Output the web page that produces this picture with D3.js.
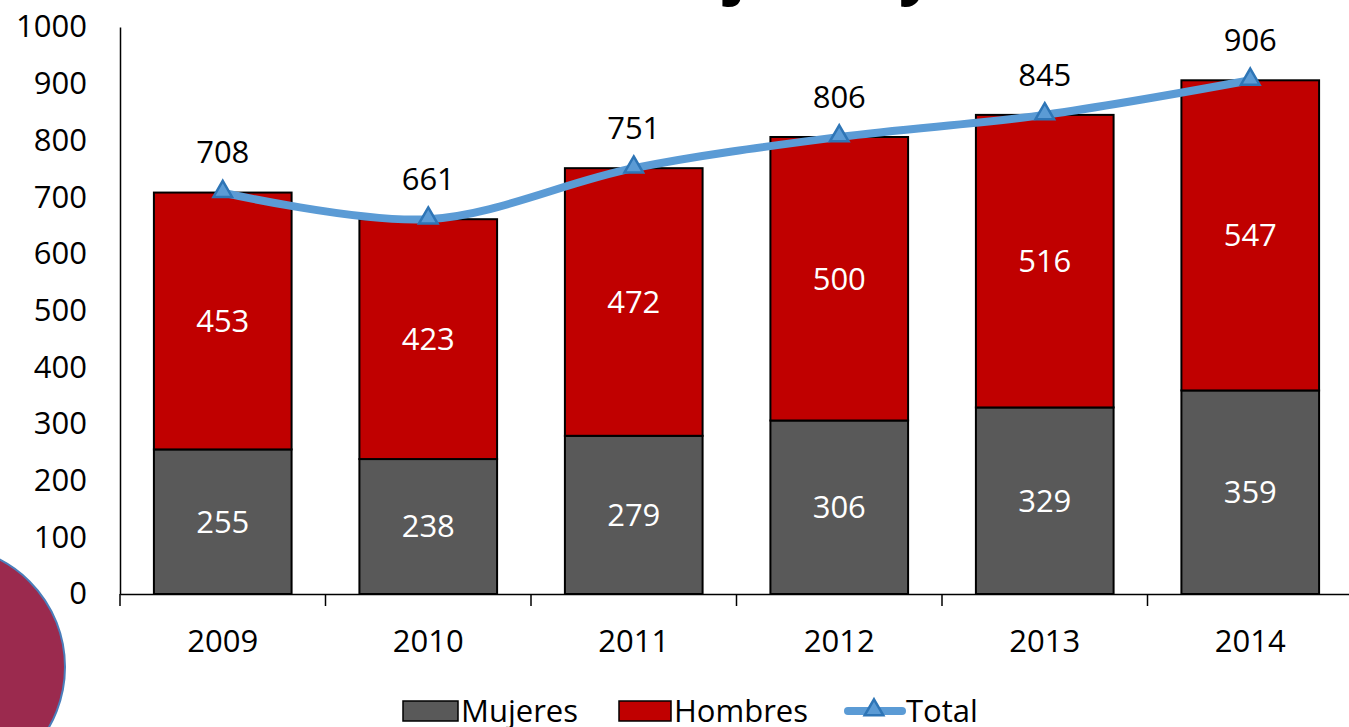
<!DOCTYPE html>
<html>
<head>
<meta charset="utf-8">
<script src="https://cdn.jsdelivr.net/npm/d3@7"></script>
<style>
  body { margin: 0; background: #fff; }
  svg { display: block; font-family: "Open Sans", sans-serif; }
</style>
</head>
<body>
<svg width="1349" height="727"></svg>
<script>
// data
const years = ["2009", "2010", "2011", "2012", "2013", "2014"];
const mujeres = [255, 238, 279, 306, 329, 359];
const hombres = [453, 423, 472, 500, 516, 547];
const total = [708, 661, 751, 806, 845, 906];
const yTicks = [0, 100, 200, 300, 400, 500, 600, 700, 800, 900, 1000];

const plotLeft = 120, plotRight = 1353, plotTop = 27, plotBottom = 594;
const fs = 31;

const svg = d3.select("svg");

// decoration: circle peeking from the bottom-left corner
svg.append("circle")
  .attr("cx", -56).attr("cy", 667).attr("r", 121)
  .attr("fill", "#9B2A4E").attr("stroke", "#4A7EBB").attr("stroke-width", 2);

// title, mostly cut off above the frame
svg.append("text")
  .attr("x", 624).attr("y", -9)
  .attr("font-weight", "bold")
  .attr("font-size", 64)
  .text("Mujeres y Hombres");

const x = d3.scaleBand().domain(years).range([plotLeft, plotRight]).paddingInner(0.33).paddingOuter(0.165);
const y = d3.scaleLinear().domain([0, 1000]).range([plotBottom, plotTop]);

const rows = years.map((yr, i) => ({ year: yr, m: mujeres[i], h: hombres[i], t: total[i] }));

// y axis
const yAxis = svg.append("g")
  .attr("transform", `translate(${plotLeft},0)`)
  .call(d3.axisLeft(y).tickValues(yTicks).tickFormat(d3.format("d")).tickSize(0).tickPadding(33));
yAxis.select(".domain").attr("stroke", "#000").attr("stroke-width", 1.5);
yAxis.selectAll("text").attr("font-size", fs).attr("fill", "#000").attr("font-family", "Open Sans");

// bars
const barG = svg.append("g");
barG.selectAll(".m").data(rows).enter().append("rect")
  .attr("x", d => x(d.year)).attr("width", x.bandwidth())
  .attr("y", d => y(d.m)).attr("height", d => y(0) - y(d.m))
  .attr("fill", "#595959").attr("stroke", "#000").attr("stroke-width", 2);
barG.selectAll(".h").data(rows).enter().append("rect")
  .attr("x", d => x(d.year)).attr("width", x.bandwidth())
  .attr("y", d => y(d.m + d.h)).attr("height", d => y(d.m) - y(d.m + d.h))
  .attr("fill", "#C00000").attr("stroke", "#000").attr("stroke-width", 2);

// x axis
const xAxis = svg.append("g")
  .attr("transform", `translate(0,${plotBottom})`)
  .call(d3.axisBottom(x).tickSize(0).tickPadding(36));
xAxis.select(".domain").attr("stroke", "#000").attr("stroke-width", 1.5);
xAxis.selectAll("text").attr("font-size", fs).attr("fill", "#000").attr("font-family", "Open Sans");
// boundary ticks between categories
svg.append("g").selectAll("line")
  .data(d3.range(years.length + 1))
  .enter().append("line")
  .attr("x1", i => plotLeft + i * (plotRight - plotLeft) / years.length)
  .attr("x2", i => plotLeft + i * (plotRight - plotLeft) / years.length)
  .attr("y1", plotBottom).attr("y2", plotBottom + 12)
  .attr("stroke", "#000").attr("stroke-width", 1.5);

// segment labels
const cx = d => x(d.year) + x.bandwidth() / 2;
svg.append("g").selectAll("text").data(rows).enter().append("text")
  .attr("x", cx).attr("y", d => y(d.m / 2)).attr("dy", "0.35em")
  .attr("text-anchor", "middle").attr("fill", "#fff").attr("font-size", fs)
  .text(d => d.m);
svg.append("g").selectAll("text").data(rows).enter().append("text")
  .attr("x", cx).attr("y", d => y(d.m + d.h / 2)).attr("dy", "0.35em")
  .attr("text-anchor", "middle").attr("fill", "#fff").attr("font-size", fs)
  .text(d => d.h);

// total line
const line = d3.line().x(cx).y(d => y(d.t)).curve(d3.curveCatmullRom.alpha(0.5));
svg.append("path").datum(rows)
  .attr("d", line)
  .attr("fill", "none").attr("stroke", "#5B9BD5").attr("stroke-width", 8)
  .attr("stroke-linecap", "round");

const tri = d3.symbol().type(d3.symbolTriangle).size(150);
svg.append("g").selectAll("path").data(rows).enter().append("path")
  .attr("d", tri)
  .attr("transform", d => `translate(${cx(d)},${y(d.t) - 1})`)
  .attr("fill", "#5B9BD5").attr("stroke", "#2E75B6").attr("stroke-width", 2.5);

svg.append("g").selectAll("text").data(rows).enter().append("text")
  .attr("x", cx).attr("y", d => y(d.t) - 40).attr("dy", "0.35em")
  .attr("text-anchor", "middle").attr("fill", "#000").attr("font-size", fs)
  .text(d => d.t);

// legend
const lg = svg.append("g").attr("transform", "translate(0,722)");
lg.append("rect").attr("x", 403).attr("y", -21).attr("width", 55).attr("height", 20)
  .attr("fill", "#595959").attr("stroke", "#000").attr("stroke-width", 1.5);
lg.append("text").attr("x", 461).attr("y", 0).attr("font-size", fs).text("Mujeres");
lg.append("rect").attr("x", 619).attr("y", -21).attr("width", 52).attr("height", 20)
  .attr("fill", "#C00000").attr("stroke", "#000").attr("stroke-width", 1.5);
lg.append("text").attr("x", 674).attr("y", 0).attr("font-size", fs).text("Hombres");
lg.append("line").attr("x1", 848).attr("x2", 902).attr("y1", -11).attr("y2", -11)
  .attr("stroke", "#5B9BD5").attr("stroke-width", 8).attr("stroke-linecap", "round");
lg.append("path").attr("d", tri).attr("transform", "translate(874,-12)")
  .attr("fill", "#5B9BD5").attr("stroke", "#2E75B6").attr("stroke-width", 2.5);
lg.append("text").attr("x", 906).attr("y", 0).attr("font-size", fs).text("Total");
</script>
</body>
</html>
